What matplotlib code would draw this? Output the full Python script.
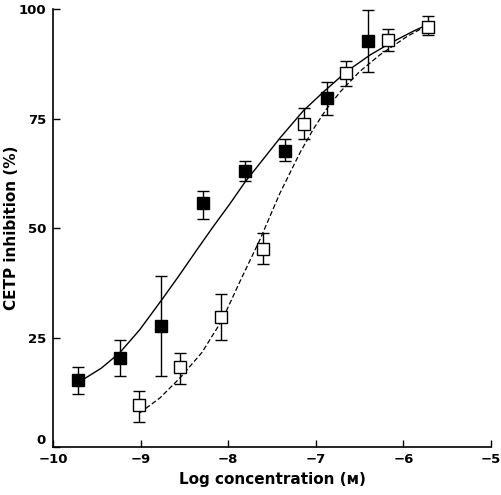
import numpy as np
import matplotlib.pyplot as plt

plt.rcParams['font.family'] = ['DejaVu Sans']

# filled squares
x_fill = [-9.71, -9.24, -8.77, -8.29, -7.81, -7.35, -6.87, -6.40]
y_fill = [15.2, 20.4, 27.7, 55.7, 63.1, 67.7, 79.8, 92.8]
lo_fill = [12.0, 16.3, 16.3, 52.2, 60.8, 65.4, 75.9, 85.7]
hi_fill = [18.2, 24.4, 39.0, 58.6, 65.4, 70.4, 83.4, 99.8]

# open squares
x_open = [-9.02, -8.55, -8.08, -7.60, -7.13, -6.66, -6.18, -5.72]
y_open = [9.7, 18.3, 29.8, 45.3, 73.9, 85.5, 93.1, 96.0]
lo_open = [5.8, 14.5, 24.5, 41.8, 70.4, 82.5, 90.4, 94.1]
hi_open = [12.9, 21.5, 34.9, 48.8, 77.4, 88.2, 95.5, 98.4]

# fitted curves
x_solid = [-9.69, -9.45, -9.24, -9.01, -8.76, -8.56, -8.36, -8.17, -7.98, -7.81,
           -7.56, -7.41, -7.14, -6.91, -6.65, -6.38, -6.15, -5.89, -5.74]
y_solid = [15.0, 18.0, 21.5, 26.8, 33.6, 39.2, 45.0, 50.4, 55.6, 60.5,
           66.8, 70.6, 76.9, 81.2, 85.8, 89.6, 92.3, 95.0, 96.4]
x_dash = [-9.01, -8.78, -8.55, -8.30, -8.07, -7.86, -7.64, -7.41, -7.18, -7.03,
          -6.88, -6.72, -6.50, -6.27, -5.96, -5.74]
y_dash = [7.8, 11.2, 15.8, 21.6, 29.0, 38.1, 47.3, 58.0, 67.3, 72.6,
          77.2, 81.2, 85.8, 89.6, 93.8, 96.2]

fig = plt.figure(figsize=(5.01, 4.95), dpi=100)
ax = fig.add_axes([0.1058, 0.097, 0.8744, 0.884])

ax.plot(x_solid, y_solid, color='black', lw=1.0)
ax.plot(x_dash, y_dash, color='black', lw=0.9, dashes=(4, 2))

yerr_f = [np.array(y_fill) - np.array(lo_fill), np.array(hi_fill) - np.array(y_fill)]
yerr_o = [np.array(y_open) - np.array(lo_open), np.array(hi_open) - np.array(y_open)]
ax.errorbar(x_fill, y_fill, yerr=yerr_f, fmt='s', ms=8.5, mfc='black', mec='black',
            ecolor='black', elinewidth=1.0, capsize=4.5, capthick=1.0, zorder=3)
ax.errorbar(x_open, y_open, yerr=yerr_o, fmt='s', ms=8, mfc='white', mec='black',
            mew=1.0, ecolor='black', elinewidth=1.0, capsize=4.5, capthick=1.0, zorder=3)

ax.set_xlim(-10, -5)
ax.set_ylim(0, 100)
ax.set_xticks([-10, -9, -8, -7, -6, -5])
ax.set_xticklabels(['\u221210', '\u22129', '\u22128', '\u22127', '\u22126', '\u22125'])
ax.set_yticks([0, 25, 50, 75, 100])
ax.spines['top'].set_visible(False)
ax.spines['right'].set_visible(False)
for s in ['left', 'bottom']:
    ax.spines[s].set_linewidth(1.2)
ax.tick_params(direction='in', length=5, width=1.0, labelsize=9.5)
for lab in ax.get_xticklabels() + ax.get_yticklabels():
    lab.set_fontweight('bold')
ax.get_yticklabels()[0].set_va('bottom')  # "0" sits just above "-10"
ax.tick_params(axis='x', pad=4)
ax.tick_params(axis='y', pad=5)

ax.set_xlabel('Log concentration (\u1d0d)', fontsize=11, fontweight='bold', labelpad=5)
ax.set_ylabel('CETP inhibition (%)', fontsize=11, fontweight='bold')
ax.yaxis.set_label_coords(-0.078, 0.5)

fig.savefig('out.png', dpi=100)
